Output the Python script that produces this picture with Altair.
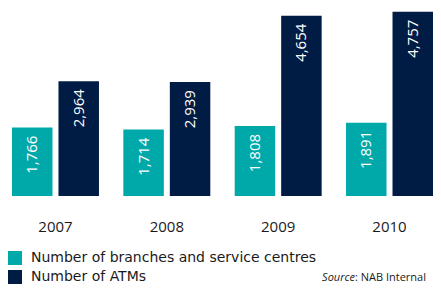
import altair as alt
import pandas as pd

years = ["2007", "2008", "2009", "2010"]
branches = [1766, 1714, 1808, 1891]
atms = [2964, 2939, 4654, 4757]
series_names = ["Number of branches and service centres", "Number of ATMs"]
series_colors = ["#00a9a9", "#001b44"]
source_label = ["Source"]
source_rest = [": NAB Internal"]

rows = []
for i, yr in enumerate(years):
    rows.append({"year": yr, "series": series_names[0], "value": branches[i]})
    rows.append({"year": yr, "series": series_names[1], "value": atms[i]})
df = pd.DataFrame(rows)

FONT = "Open Sans"
LFONT = "DejaVu Sans"
TXT = "#1a1a1a"

x = alt.X("year:N", sort=years, title=None,
          scale=alt.Scale(paddingInner=0.219, paddingOuter=0),
          axis=alt.Axis(domain=False, ticks=False, labelAngle=0, labelFontSize=15,
                        labelColor=TXT, labelPadding=23, labelFont=FONT))
xo = alt.XOffset("series:N", sort=series_names,
                 scale=alt.Scale(paddingInner=0.129, paddingOuter=0))
y = alt.Y("value:Q", scale=alt.Scale(domain=[0, 4800], nice=False), axis=None)

base = alt.Chart(df).encode(x=x, xOffset=xo)

bars = base.mark_bar().encode(
    y=y,
    color=alt.Color("series:N", sort=series_names,
                    scale=alt.Scale(domain=series_names, range=series_colors),
                    legend=alt.Legend(orient="none", legendX=-4, legendY=241, title=None,
                                      symbolType="square", symbolSize=196,
                                      symbolStrokeWidth=0, symbolOpacity=1,
                                      labelFontSize=14, labelFont=LFONT, labelColor=TXT,
                                      rowPadding=5, labelOffset=9, padding=0,
                                      labelLimit=0)),
)

labels = base.mark_text(angle=270, align="right", baseline="middle", dx=-8,
                        color="white", fontSize=15, font=FONT).encode(
    y=y, text=alt.Text("value:Q", format=",")
)

src_df = pd.DataFrame({"a": source_label, "b": source_rest})
s1 = alt.Chart(src_df).mark_text(align="right", baseline="middle", fontStyle="italic",
                                 fontSize=11, font=FONT, color=TXT).encode(
    x=alt.value(343), y=alt.value(268), text="a:N")
s2 = alt.Chart(src_df).mark_text(align="left", baseline="middle",
                                 fontSize=11, font=FONT, color=TXT).encode(
    x=alt.value(343), y=alt.value(268), text="b:N")

chart = alt.layer(bars, labels, s1, s2).properties(
    width=421, height=186,
    autosize=alt.AutoSizeParams(type="none"),
    padding={"left": 4, "top": 2, "right": 0, "bottom": 89},
).configure_view(stroke=None)

chart.save("out.html", embed_options={"renderer": "svg", "actions": False})
